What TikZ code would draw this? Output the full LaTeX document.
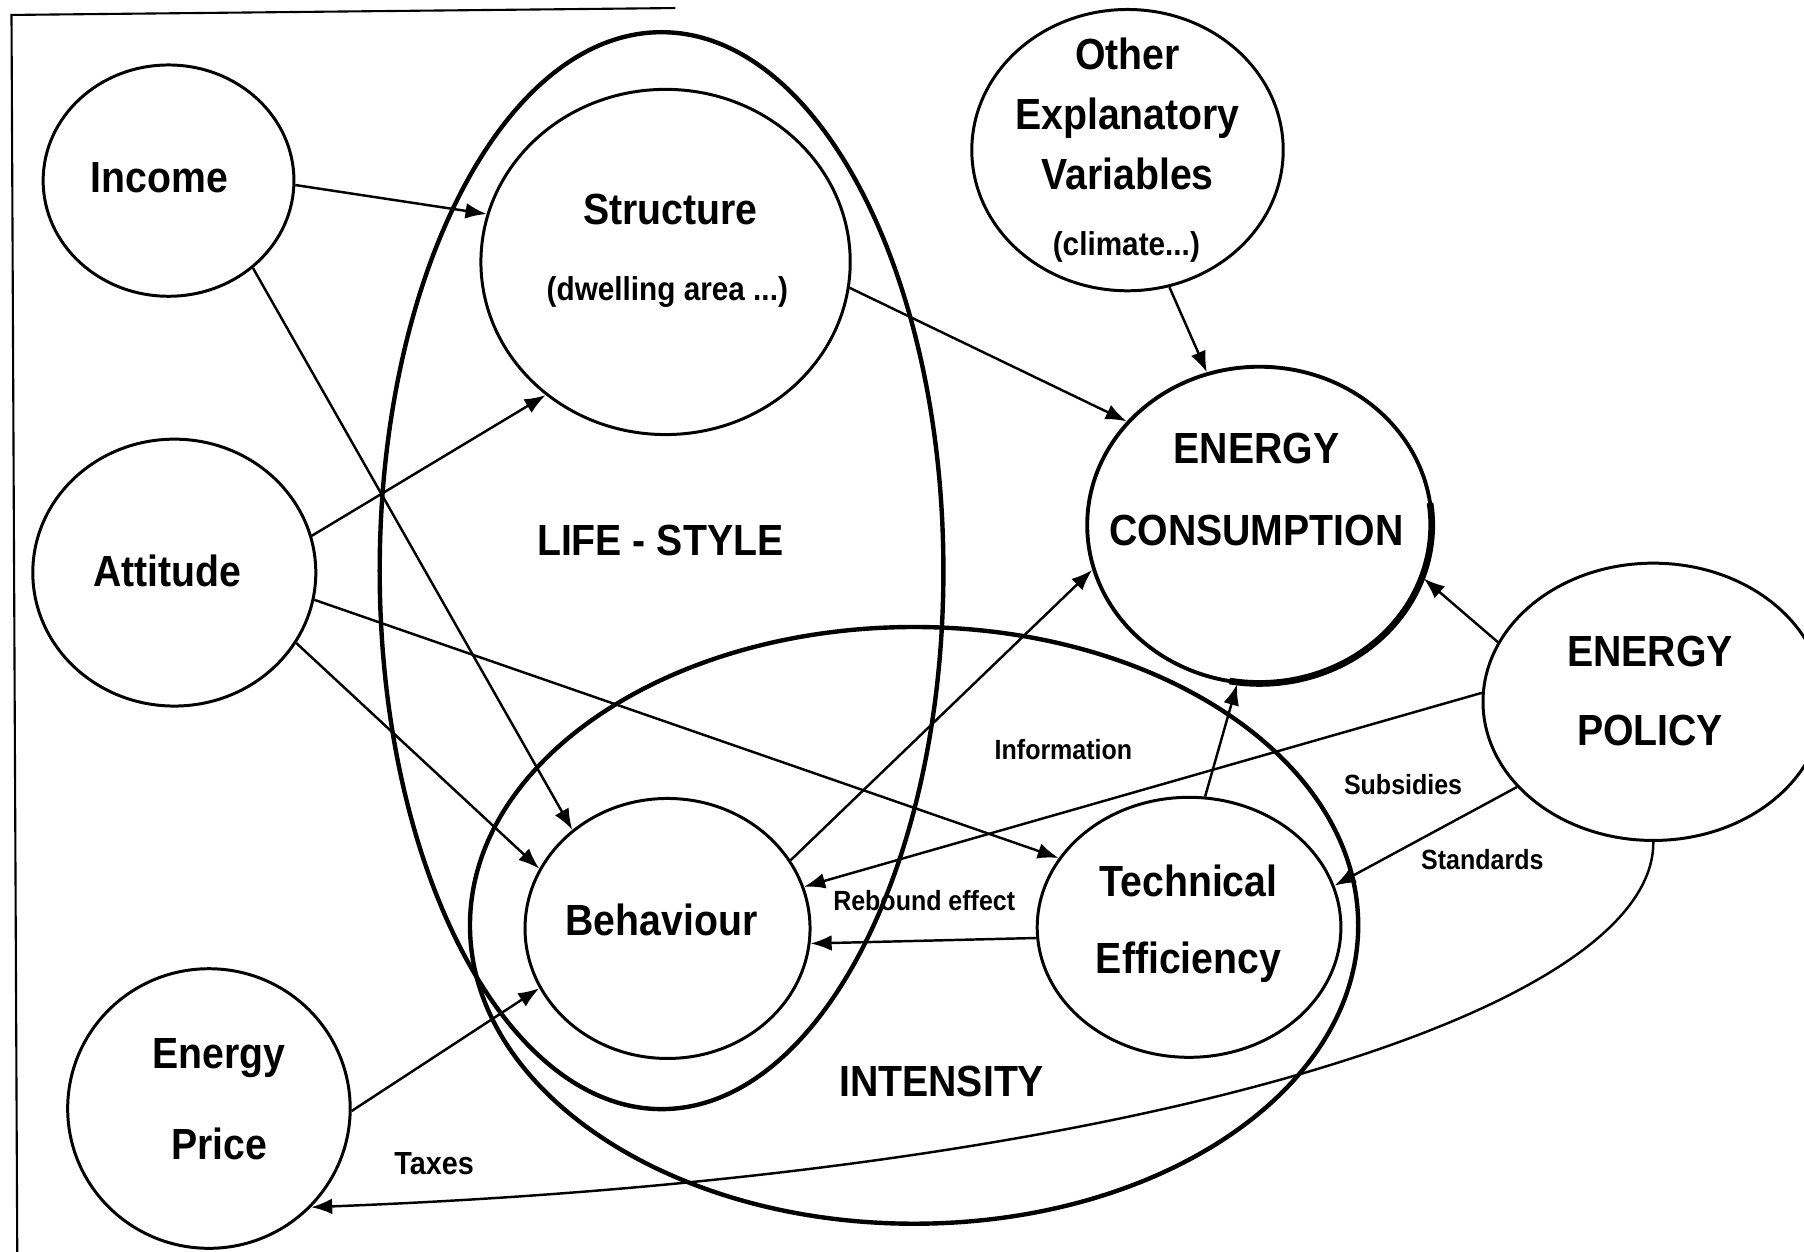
\documentclass[tikz,border=0pt]{standalone}
\usepackage{fontspec}
\setmainfont{Liberation Sans}[FakeStretch=0.9]
\usepackage{tikz}
\usetikzlibrary{arrows.meta, shapes.geometric}
\tikzstyle{Link} = [
%arrow from one variable to another:
line width = 0.7pt,
-{Latex[length=6pt, width=4.5pt]}
]

\begin{document}
\begin{tikzpicture}[
			x = 0.0115051cm, y = -0.0115051cm,
			factor/.style = {ellipse, draw, line width = 0.85pt, inner sep = 0pt},
			group/.style = {ellipse, draw, line width = 1.25pt, inner sep = 0pt},
			caption/.style = {font = \bfseries\fontsize{12.4}{22}\selectfont, align = center, text depth = 0pt, inner sep = 0pt},
			subcaption/.style = {font = \bfseries\fontsize{9.4}{11}\selectfont, text depth = 0pt, inner sep = 0pt},
			linklabel/.style = {font = \bfseries\fontsize{7.9}{9}\selectfont, text depth = 0pt, inner sep = 0pt},
		]
		\useasboundingbox (0,0) rectangle (1568,1088);
		\draw[line width = 0.6pt] (15,1088) -- (10,13) -- (587,7);

		\node[group, minimum width = 5.637cm, minimum height = 10.769cm](Life) at (575,496){};
		\node[group, minimum width = 8.882cm, minimum height = 5.967cm](Inten) at (794.5,804.3){};

		\node[factor, minimum width = 2.508cm, minimum height = 2.313cm](Inc) at (146.5,157){};
		\node[factor, minimum width = 2.830cm, minimum height = 2.669cm](Att) at (151.5,497.7){};
		\node[factor, minimum width = 2.825cm, minimum height = 2.796cm](Price) at (181.6,963.5){};
		\node[factor, minimum width = 3.693cm, minimum height = 3.452cm](Struc) at (578.5,227.7){};
		\node[factor, minimum width = 3.114cm, minimum height = 2.813cm](Other) at (980,130.5){};
		\node[factor, line width = 1.1pt, minimum width = 3.445cm, minimum height = 3.167cm](Cons) at (1094.7,456.4){};
		\node[factor, minimum width = 3.406cm, minimum height = 2.773cm](Policy) at (1437,610){};
		\node[factor, minimum width = 2.850cm, minimum height = 2.600cm](Behav) at (580.2,807){};
		\node[factor, minimum width = 3.037cm, minimum height = 2.600cm](Tech) at (1033.5,806){};
		\draw[line width = 1.9pt] (Cons.center) ++(8:1.7225cm and 1.5835cm) arc[start angle = 8, end angle = -100, x radius = 1.7225cm, y radius = 1.5835cm];

		\node[caption](IncT) at (138.4,154.7){Income};
		\node[caption](AttT) at (145.5,496){Attitude};
		\node[caption](PriceT) at (190.5,955){Energy\\[4pt]Price};
		\node[caption](StrucT) at (582.5,182){Structure};
		\node[subcaption](StrucD) at (580,250.5){(dwelling area ...)};
		\node[caption, font = \bfseries\fontsize{12.4}{17.1}\selectfont](OtherT) at (980,99){Other\\Explanatory\\Variables};
		\node[subcaption](OtherD) at (979,211.3){(climate...)};
		\node[caption](ConsT) at (1092,425.5){ENERGY\\[1.4pt]CONSUMPTION};
		\node[caption](PolicyT) at (1434.2,600.5){ENERGY\\[0.6pt]POLICY};
		\node[caption](BehavT) at (575,799){Behaviour};
		\node[caption](TechT) at (1033,799){Technical\\Efficiency};
		\node[caption](LifeT) at (573.8,470){LIFE - STYLE};
		\node[caption](IntenT) at (818.5,939.4){INTENSITY};

		\node[linklabel](InfoL) at (924.3,651){Information};
		\node[linklabel](SubsL) at (1219.5,682){Subsidies};
		\node[linklabel](StandL) at (1288.4,747.4){Standards};
		\node[linklabel](ReboundL) at (803.3,783){Rebound effect};
		\node[linklabel, font = \bfseries\fontsize{9.1}{11}\selectfont](TaxesL) at (377.4,1011){Taxes};

		\draw[Link](Inc.-2.5)--(Struc.165);
		\draw[Link](Inc.-46.7)--(Behav.134.2);
		\draw[Link](Att.15.8)--(Struc.228.3);
		\draw[Link](Att.-30.4)--(Behav.155.9);
		\draw[Link](Att.-11.6)--(Tech.152.8);
		\draw[Link](Struc.-8.2)--(Cons.142.65);
		\draw[Link](Other.-73.7)--(Cons.109.3);
		\draw[Link](Behav.29.2)--(Cons.195.5);
		\draw[Link](Tech.83.9)--(Cons.-98.7);
		\draw[Link](Tech.184.5)--(Behav.-6);
		\draw[Link](Policy.159.1)--(Cons.-18.9);
		\draw[Link](Policy.177.1)--(Behav.17.8);
		\draw[Link](Policy.212.7)--(Tech.16.4);
		\draw[Link](Policy.-90) .. controls (1438,880) and (980,1022) .. (Price.-44.2);
		\draw[Link](Price.-1.9)--(Behav.205.8);

	\end{tikzpicture}
\end{document}
